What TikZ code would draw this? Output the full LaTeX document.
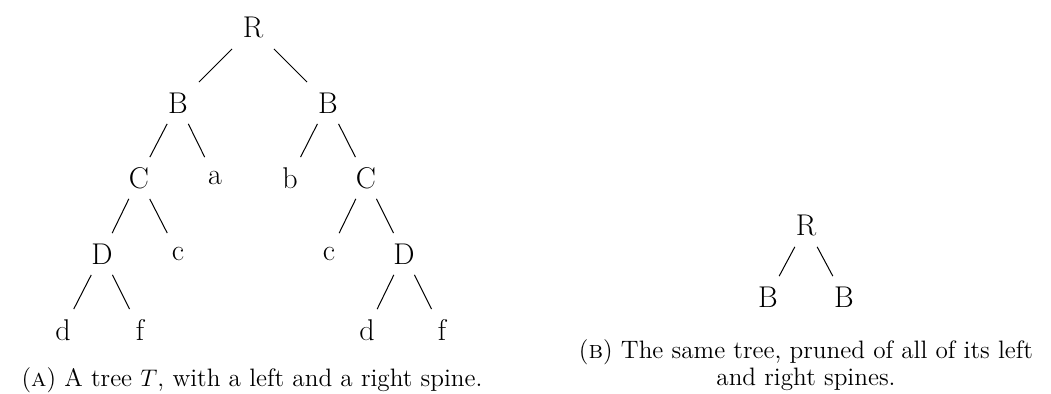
\documentclass[tikz,border=0pt]{standalone}
\usepackage{fontspec}

\begin{document}
\begin{tikzpicture}[x=0.5pt,y=-0.5pt,
    tnode/.style={font=\fontsize{15}{18}\selectfont,minimum width=22pt,
                  minimum height=20.5pt,inner sep=0pt},
    branch/.style={line width=0.5pt},
    caption/.style={font=\fontsize{12.6}{15}\selectfont,anchor=base,inner sep=0pt},
]
\useasboundingbox (0,0) rectangle (1051,394);

% ---- levels (left tree) --------------------------------------------------
\def\yLa{28}
\def\yLb{103}
\def\yLc{178}
\def\yLd{254}
\def\yLe{330}

% ---- Tree T ---------------------------------------------------------------
\node[tnode] (R)   at (253,\yLa) {R};
\node[tnode] (Bl)  at (178,\yLb) {B};
\node[tnode] (Br)  at (328,\yLb) {B};
\node[tnode] (Cl)  at (139,\yLc) {C};
\node[tnode] (a)   at (215,\yLc) {a};
\node[tnode] (b)   at (290,\yLc) {b};
\node[tnode] (Cr)  at (366,\yLc) {C};
\node[tnode] (Dl)  at (102,\yLd) {D};
\node[tnode] (cl)  at (178,\yLd) {c};
\node[tnode] (cr)  at (329,\yLd) {c};
\node[tnode] (Dr)  at (404,\yLd) {D};
\node[tnode] (dl)  at (63,\yLe)  {d};
\node[tnode] (fl)  at (140,\yLe) {f};
\node[tnode] (dr)  at (367,\yLe) {d};
\node[tnode] (fr)  at (442,\yLe) {f};

\foreach \p/\c in {R/Bl, R/Br, Bl/Cl, Bl/a, Br/b, Br/Cr,
                   Cl/Dl, Cl/cl, Cr/cr, Cr/Dr, Dl/dl, Dl/fl, Dr/dr, Dr/fr}
{
    \draw[branch] (\p) -- (\c);
}

% ---- Pruned tree ----------------------------------------------------------
\node[tnode] (pR)  at (806,226) {R};
\node[tnode] (pBl) at (768,297) {B};
\node[tnode] (pBr) at (844,297) {B};
\draw[branch] (pR) -- (pBl);
\draw[branch] (pR) -- (pBr);

% ---- Captions -------------------------------------------------------------
\node[caption] (capA)  at (252,387)
    {(\textsc{a}) A tree $T$, with a left and a right spine.};
\node[caption] (capB1) at (806,359)
    {(\textsc{b}) The same tree, pruned of all of its left};
\node[caption] (capB2) at (806,386) {and right spines.};

\end{tikzpicture}
\end{document}
